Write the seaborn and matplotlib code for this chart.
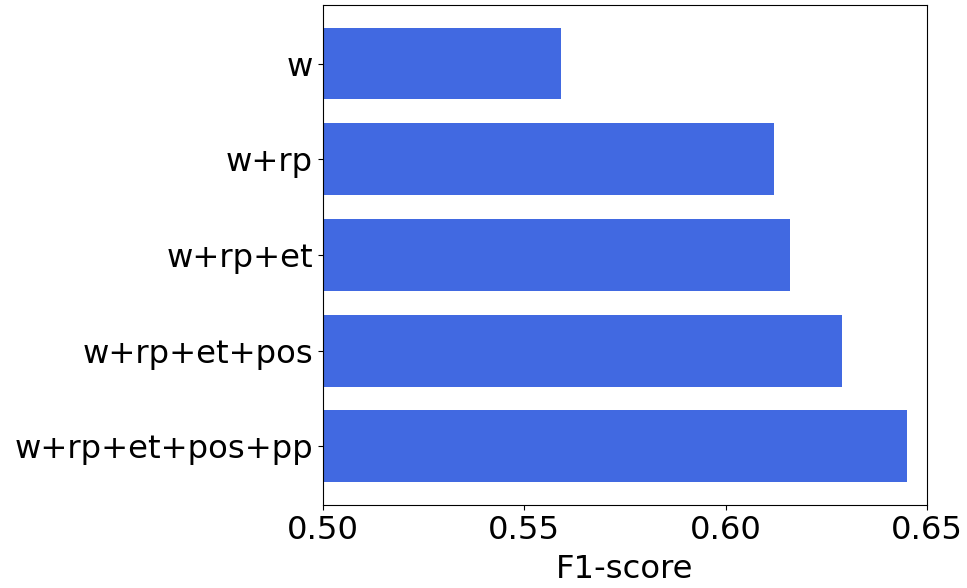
import matplotlib
matplotlib.use("Agg")
import matplotlib.pyplot as plt
import seaborn as sns
import pandas as pd

features = ["w", "w+rp", "w+rp+et", "w+rp+et+pos", "w+rp+et+pos+pp"]
f1_scores = [0.559, 0.612, 0.616, 0.629, 0.645]

df = pd.DataFrame({"feature": features, "f1": f1_scores})

plt.rcParams["font.family"] = ["DejaVu Sans"]
fig = plt.figure(figsize=(9.67, 5.88), dpi=100)
ax = fig.add_axes([0.334, 0.1412, 0.9587 - 0.334, 0.9915 - 0.1412])
sns.barplot(data=df, x="f1", y="feature", orient="h", color="#4169E1",
            saturation=1, width=0.75, ax=ax)
ax.set_xlim(0.50, 0.65)
ax.set_ylim(4.6125, -0.6125)
ax.set_xticks([0.50, 0.55, 0.60, 0.65])
ax.set_xticklabels(["0.50", "0.55", "0.60", "0.65"])
ax.tick_params(axis="both", labelsize=23.2)
ax.set_xlabel("F1-score", fontsize=23.2, labelpad=6)
ax.set_ylabel("")
for s in ax.spines.values():
    s.set_visible(True)
    s.set_color("black")
fig.savefig("out.png", dpi=100)
